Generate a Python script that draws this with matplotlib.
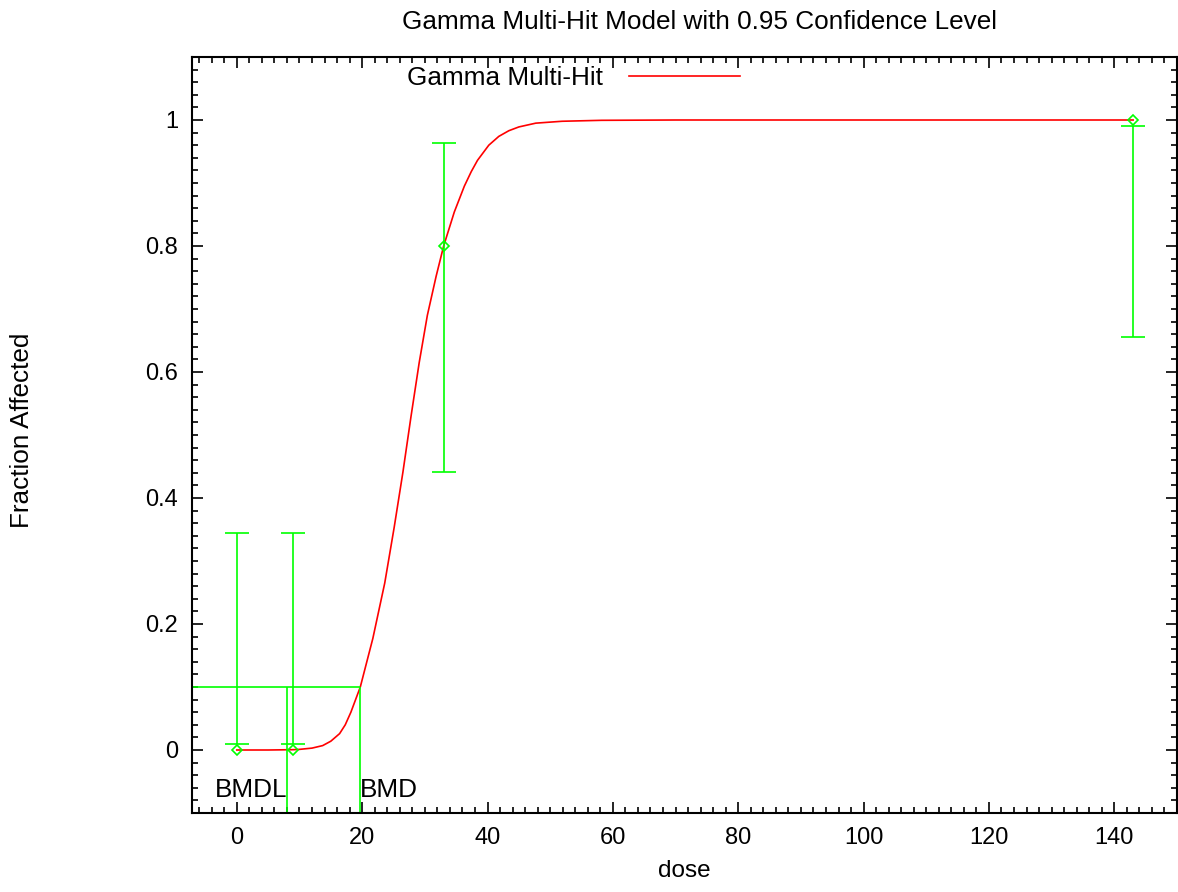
"""Gamma multi-hit dose-response fit with BMD / BMDL markers (gnuplot look)."""
import matplotlib
matplotlib.use("Agg")
import matplotlib.pyplot as plt
from matplotlib.ticker import MultipleLocator
import numpy as np

# --- observed data (fraction affected with 0.95 CI) ---
dose = [0, 9, 33, 143]
frac = [0.0, 0.0, 0.8, 1.0]
ci_lo = [0.009, 0.009, 0.442, 0.655]
ci_hi = [0.344, 0.344, 0.964, 0.990]

# --- fitted gamma multi-hit curve ---
curve_dose = [0, 5, 9, 10, 11, 12, 13.7, 15, 16.4, 17.3, 18.2, 19.7, 21.7, 23.6,
              25.1, 26.5, 27.8, 29.1, 30.4, 31.8, 33.0, 34.7, 36.3, 37.4, 38.4,
              40.2, 41.8, 43.4, 45.0, 47.7, 51.9, 58.2, 70, 100, 143]
curve_frac = [0.0, 0.0, 0.0005, 0.001, 0.002, 0.003, 0.007, 0.014, 0.026, 0.04,
              0.06, 0.100, 0.177, 0.265, 0.353, 0.441, 0.530, 0.615, 0.690,
              0.752, 0.800, 0.854, 0.895, 0.918, 0.936, 0.960, 0.974, 0.983,
              0.989, 0.995, 0.998, 0.9995, 1.0, 1.0, 1.0]

bmr = 0.1
bmd = 19.7
bmdl = 8.0

XLIM = (-7.15, 150)
YLIM = (-0.1, 1.1)
RED = "#ff0000"
GREEN = "#00ff00"
FS = 17
FS_BIG = 18.8

plt.rcParams["font.family"] = ["Liberation Sans", "DejaVu Sans"]

fig = plt.figure(figsize=(11.78, 8.92), dpi=100)
ax = fig.add_axes([192 / 1178, 79 / 892, 985 / 1178, 756 / 892])

line, = ax.plot(curve_dose, curve_frac, color=RED, lw=1.2, label="Gamma Multi-Hit")

d = np.asarray(dose, float)
lo = np.asarray(ci_lo)
hi = np.asarray(ci_hi)
ax.errorbar(d, (lo + hi) / 2, yerr=(hi - lo) / 2, fmt="none", ecolor=GREEN,
            elinewidth=1.2, capsize=8.5, capthick=1.2)
ax.plot(dose, frac, ls="none", marker="D", ms=5, mfc="none", mec=GREEN, mew=1.2)

# BMR / BMD / BMDL guide lines
ax.hlines(bmr, XLIM[0], bmd, color=GREEN, lw=1.2)
ax.vlines([bmdl, bmd], YLIM[0], bmr, color=GREEN, lw=1.2)
ax.text(bmdl, -0.064, "BMDL", ha="right", va="center", fontsize=FS_BIG)
ax.text(bmd, -0.064, "BMD", ha="left", va="center", fontsize=FS_BIG)

ax.set_xlim(*XLIM)
ax.set_ylim(*YLIM)
ax.xaxis.set_major_locator(MultipleLocator(20))
ax.xaxis.set_minor_locator(MultipleLocator(2))
ax.yaxis.set_major_locator(MultipleLocator(0.2))
ax.yaxis.set_minor_locator(MultipleLocator(0.02))
ax.yaxis.set_major_formatter(plt.FuncFormatter(lambda v, _: f"{v:g}"))
ax.tick_params(which="both", direction="in", top=True, right=True, labelsize=FS,
               width=1.2)
ax.tick_params(which="major", length=8, pad=10)
ax.tick_params(which="minor", length=4)
for s in ax.spines.values():
    s.set_linewidth(1.5)

ax.set_xlabel("dose", fontsize=FS + 0.5, labelpad=8)
fig.text(22 / 1178, 1 - 430 / 892, "Fraction Affected", rotation=90,
         ha="center", va="center", fontsize=FS_BIG)
fig.text(699 / 1178, 1 - 22 / 892, "Gamma Multi-Hit Model with 0.95 Confidence Level",
         ha="center", va="center", fontsize=FS_BIG)

ax.legend(handles=[line], loc="center right", bbox_to_anchor=(740 / 1178, 1 - 78 / 892),
          bbox_transform=fig.transFigure, frameon=False, markerfirst=False,
          handlelength=4.25, handletextpad=1.0, fontsize=FS_BIG, borderaxespad=0,
          borderpad=0)

fig.savefig("out.png", dpi=100, facecolor="white")
